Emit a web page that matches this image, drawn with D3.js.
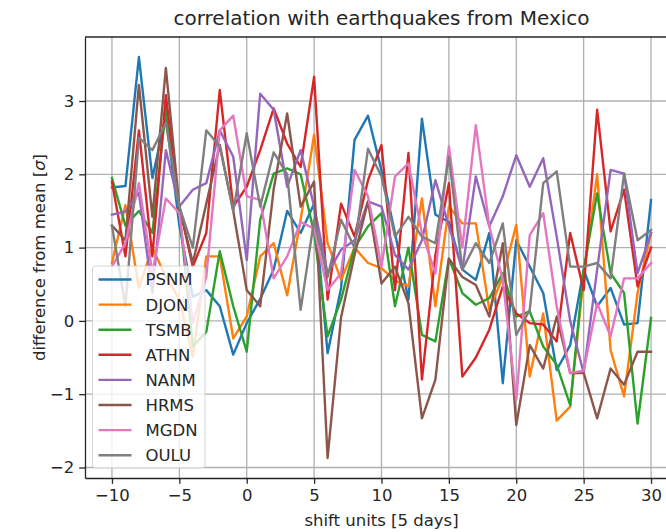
<!DOCTYPE html>
<html>
<head>
<meta charset="utf-8">
<script src="https://cdn.jsdelivr.net/npm/d3@7"></script>
<style>
  html, body { margin: 0; padding: 0; background: #fff; }
  svg { display: block; font-family: "DejaVu Sans", sans-serif; }
</style>
</head>
<body>
<svg id="chart" width="666" height="532"></svg>
<script>
// shift in units of 5 days
const shifts = d3.range(-10, 31);

const stations = ["PSNM", "DJON", "TSMB", "ATHN", "NANM", "HRMS", "MGDN", "OULU"];
const colors = ["#1f77b4", "#ff7f0e", "#2ca02c", "#d62728", "#9467bd", "#8c564b", "#e377c2", "#7f7f7f"];

const PSNM = [1.82, 1.84, 3.6, 1.95, 2.8, 1.3, 0.33, 0.42, 0.2, -0.46, -0.03, 0.3, 0.7, 1.5, 1.2, 1.6, -0.44, 0.45, 2.47, 2.8,
              2.05, 1.2, 0.29, 2.76, 1.45, 1.35, 0.7, 0.56, 1.2, -0.85, 1.1, 0.74, 0.38, -0.67, -0.33, 0.7, 0.2, 0.45, -0.05, -0.03, 1.65];
const DJON = [0.79, 1.58, 0.45, 1.0, 0.6, 0.3, -0.49, 0.88, 0.88, -0.24, 0.06, 0.88, 1.06, 0.35, 1.38, 2.54, 1.06, 0.56, 1.0, 0.79,
              0.72, 0.55, 0.47, 1.67, 0.2, 1.56, 1.33, 1.33, 0.15, 0.6, 1.31, -0.76, 0.1, -1.36, -1.17, 0.6, 2.0, -0.4, -1.03, 0.38, 1.2];
const TSMB = [1.95, 1.3, 1.5, 1.2, 2.9, 1.5, -0.35, -0.15, 0.95, 0.2, -0.42, 1.38, 2.01, 2.08, 2.0, 1.2, -0.21, 0.29, 1.0, 1.29,
              1.47, 0.2, 1.0, -0.19, -0.28, 0.85, 0.38, 0.22, 0.31, 0.65, 0.06, 0.13, -0.35, -0.6, -1.15, 0.7, 1.74, 0.65, 0.38, -1.4, 0.04];
const ATHN = [1.9, 0.88, 2.6, 0.88, 3.08, 1.56, 0.74, 1.2, 3.15, 1.56, 1.83, 2.33, 2.9, 2.42, 2.1, 3.33, 0.29, 1.6, 1.15, 1.92,
              2.4, 0.42, 2.29, -0.8, 0.9, 1.88, -0.76, -0.5, -0.12, 0.47, 0.1, -0.03, -0.05, -0.28, 1.2, 0.42, 2.88, 1.22, 1.79, 0.47, 1.0];
const NANM = [1.45, 1.49, 1.75, 0.38, 2.33, 1.56, 1.79, 1.88, 2.6, 2.24, 0.83, 3.1, 2.88, 1.83, 2.33, 1.56, 0.65, 0.97, 1.1, 1.63,
              1.56, 0.9, 0.7, 1.1, 1.92, 1.29, 0.7, 1.97, 1.29, 1.7, 2.26, 1.83, 2.22, 1.15, 0.0, -0.71, 0.7, 2.06, 2.01, 0.65, 1.2];
const HRMS = [1.3, 1.1, 3.22, 1.42, 3.45, 1.56, 0.79, 1.6, 2.4, 1.5, 0.42, 0.2, 1.8, 2.83, 1.56, 1.9, -1.87, 0.05, 0.9, 1.63,
              0.51, 0.74, 0.24, -1.33, -0.8, 0.85, 0.6, 0.49, 0.06, 1.06, -1.42, -0.33, -0.65, 0.06, -0.71, -0.71, -1.33, -0.65, -0.87, -0.42, -0.42];
const MGDN = [0.74, 1.06, 1.88, 0.65, 1.67, 1.47, -0.03, 0.6, 2.6, 2.8, 1.7, 1.65, 0.58, 0.88, 1.35, 1.26, 0.42, 0.65, 2.06, 1.7,
              0.74, 1.97, 2.15, 1.2, 0.65, 2.38, 1.0, 2.67, 1.29, 0.56, -1.08, 1.17, 1.47, 0.2, -0.71, -0.68, 0.24, -0.21, 0.58, 0.58, 0.79];
const OULU = [1.3, 0.2, 2.5, 2.33, 2.7, 1.56, 1.0, 2.6, 2.38, 1.5, 2.56, 1.56, 2.3, 2.0, 0.15, 1.38, 0.6, 1.38, 1.0, 2.35,
              1.97, 1.15, 1.42, 1.15, 1.06, 2.24, 0.7, 1.06, 0.79, 1.33, -0.19, 0.15, 1.88, 2.04, 0.74, 0.74, 0.79, 0.58, 2.01, 1.1, 1.24];

const seriesValues = [PSNM, DJON, TSMB, ATHN, NANM, HRMS, MGDN, OULU];

const xTicks = [-10, -5, 0, 5, 10, 15, 20, 25, 30];
const yTicks = [-2, -1, 0, 1, 2, 3];

const titleText = "correlation with earthquakes from Mexico";
const xLabel = "shift units [5 days]";
const yLabelParts = ["difference from mean [", "σ", "]"];

// ---- layout ----
const plot = { left: 85, top: 37, right: 678, bottom: 478 };
const fs = 16.5;      // base font size
const ink = "#262626";
const svg = d3.select("#chart");

const allVals = seriesValues.flat();
const yMin = d3.min(allVals), yMax = d3.max(allVals);
const yPad = (yMax - yMin) * 0.05;
const xPad = (d3.max(shifts) - d3.min(shifts)) * 0.05;

const x = d3.scaleLinear()
  .domain([d3.min(shifts) - xPad, d3.max(shifts) + xPad])
  .range([plot.left, plot.right]);
const y = d3.scaleLinear()
  .domain([yMin - yPad, yMax + yPad])
  .range([plot.bottom, plot.top]);

const fmt = d => (d < 0 ? "\u2212" + Math.abs(d) : String(d));

// grid
const grid = svg.append("g").attr("stroke", "#b0b0b0").attr("stroke-width", 1.3);
grid.selectAll("line.vx").data(xTicks).join("line")
  .attr("x1", d => x(d)).attr("x2", d => x(d))
  .attr("y1", plot.top).attr("y2", plot.bottom);
grid.selectAll("line.hy").data(yTicks).join("line")
  .attr("x1", plot.left).attr("x2", plot.right)
  .attr("y1", d => y(d)).attr("y2", d => y(d));

// series lines
svg.append("clipPath").attr("id", "clip").append("rect")
  .attr("x", plot.left).attr("y", plot.top)
  .attr("width", plot.right - plot.left).attr("height", plot.bottom - plot.top);

const line = d3.line().x((d, i) => x(shifts[i])).y(d => y(d));
svg.append("g").attr("clip-path", "url(#clip)")
  .selectAll("path").data(seriesValues).join("path")
  .attr("d", d => line(d))
  .attr("fill", "none")
  .attr("stroke", (d, i) => colors[i])
  .attr("stroke-width", 2.4)
  .attr("stroke-linejoin", "round")
  .attr("stroke-linecap", "square");

// axes
const xAxis = svg.append("g")
  .attr("transform", `translate(0,${plot.bottom})`)
  .call(d3.axisBottom(x).tickValues(xTicks).tickFormat(fmt).tickSizeInner(5.8).tickSizeOuter(0).tickPadding(5));
const yAxis = svg.append("g")
  .attr("transform", `translate(${plot.left},0)`)
  .call(d3.axisLeft(y).tickValues(yTicks).tickFormat(fmt).tickSizeInner(5.8).tickSizeOuter(0).tickPadding(5));
[xAxis, yAxis].forEach(g => {
  g.selectAll("text").attr("font-size", fs).attr("fill", ink).attr("font-family", "DejaVu Sans, sans-serif");
  g.selectAll("line").attr("stroke", ink).attr("stroke-width", 1.3);
  g.select(".domain").attr("stroke", ink).attr("stroke-width", 1.3);
});
// top spine
svg.append("line")
  .attr("x1", plot.left).attr("x2", plot.right)
  .attr("y1", plot.top).attr("y2", plot.top)
  .attr("stroke", ink).attr("stroke-width", 1.3);

// titles
svg.append("text")
  .attr("x", (plot.left + plot.right) / 2).attr("y", 25)
  .attr("text-anchor", "middle").attr("font-size", 20).attr("fill", ink)
  .text(titleText);
svg.append("text")
  .attr("x", (plot.left + plot.right) / 2).attr("y", 526)
  .attr("text-anchor", "middle").attr("font-size", fs).attr("fill", ink)
  .text(xLabel);
const yl = svg.append("text")
  .attr("transform", `translate(45,${(plot.top + plot.bottom) / 2}) rotate(-90)`)
  .attr("text-anchor", "middle").attr("font-size", fs).attr("fill", ink);
yl.selectAll("tspan").data(yLabelParts).join("tspan")
  .attr("font-style", (d, i) => (i === 1 ? "italic" : null))
  .text(d => d);

// legend
const legend = svg.append("g").attr("transform", "translate(92.5,266)");
legend.append("rect")
  .attr("width", 112.5).attr("height", 202).attr("rx", 3)
  .attr("fill", "#fff").attr("fill-opacity", 0.8)
  .attr("stroke", "#ccc").attr("stroke-opacity", 0.8);
const items = legend.selectAll("g.item").data(stations).join("g")
  .attr("transform", (d, i) => `translate(0,${13.5 + i * 25.1})`);
items.append("line")
  .attr("x1", 6).attr("x2", 39)
  .attr("stroke", (d, i) => colors[i]).attr("stroke-width", 2.4);
items.append("text")
  .attr("x", 53).attr("dy", "0.36em")
  .attr("font-size", fs).attr("fill", ink)
  .text(d => d);
</script>
</body>
</html>
